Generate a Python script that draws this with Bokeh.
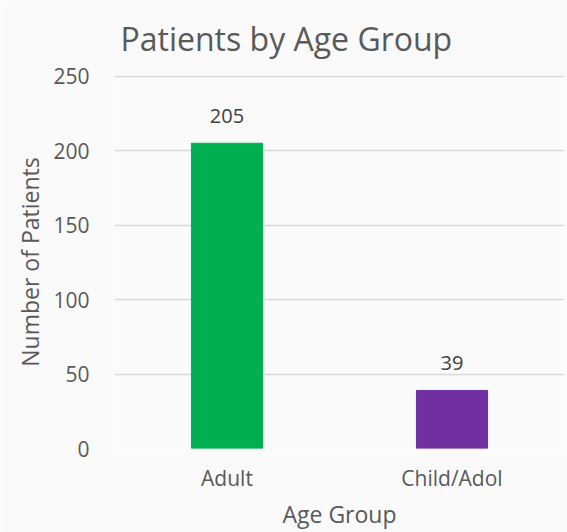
from bokeh.plotting import figure
from bokeh.models import Range1d, FactorRange, ColumnDataSource, SingleIntervalTicker, Title
from bokeh.core.properties import value
from bokeh.embed import file_html
from bokeh.resources import INLINE

categories = ["Adult", "Child/Adol"]
patients = [205, 39]
colors = ["#00B050", "#7030A0"]
labels = [str(v) for v in patients]
title_text = "Patients by Age Group"

FONT = "Open Sans"
TXT = "#595959"
BG = "#FAFAFA"

src = ColumnDataSource(dict(cat=categories, val=patients, col=colors, lab=labels))

p = figure(width=567, height=532, x_range=FactorRange(*categories, range_padding=0),
           y_range=Range1d(0, 250.5), output_backend="svg", toolbar_location=None,
           title=None)
p.min_border_left = 114
p.min_border_right = 3
p.min_border_top = 75
p.min_border_bottom = 83
p.background_fill_color = BG
p.border_fill_color = BG
p.outline_line_color = None

main_title = Title(text=title_text, text_font=FONT, text_font_size="32px",
                   text_font_style="normal", text_color=TXT, align="left",
                   offset=6, standoff=28, vertical_align="top")
p.add_layout(main_title, "above")

p.vbar(x="cat", top="val", width=0.316, color="col", source=src)
t = p.text(x="cat", y="val", text="lab", source=src, text_align="center",
           text_baseline="bottom", y_offset=-20, text_font_size="20px",
           text_color="#404040")
t.glyph.text_font = value(FONT)

p.xgrid.grid_line_color = None
p.ygrid.grid_line_color = "#D9D9D9"
p.ygrid.grid_line_width = 1.5
p.yaxis.ticker = SingleIntervalTicker(interval=50)

for ax in (p.xaxis[0], p.yaxis[0]):
    ax.axis_line_color = None
    ax.major_tick_line_color = None
    ax.minor_tick_line_color = None
    ax.major_tick_out = 0
    ax.minor_tick_out = 0
    ax.major_tick_in = 0
    ax.minor_tick_in = 0
    ax.major_label_text_font = FONT
    ax.major_label_text_font_size = "21px"
    ax.major_label_text_color = TXT
    ax.axis_label_text_font = FONT
    ax.axis_label_text_font_size = "23px"
    ax.axis_label_text_font_style = "normal"
    ax.axis_label_text_color = TXT

p.xaxis.axis_label = "Age Group"
p.yaxis.axis_label = "Number of Patients"
p.yaxis.major_label_standoff = 25
p.xaxis.major_label_standoff = 15
p.xaxis.axis_label_standoff = 3
p.yaxis.axis_label_standoff = 4

open("out.html", "w").write(file_html(p, INLINE))
